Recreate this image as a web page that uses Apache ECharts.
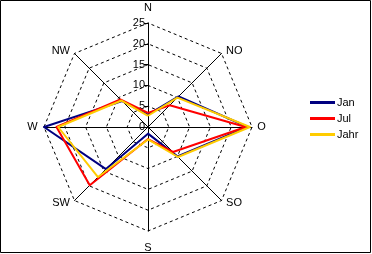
<!DOCTYPE html>
<html><head><meta charset="utf-8">
<script src="https://cdn.jsdelivr.net/npm/echarts@6/dist/echarts.min.js"></script>
<style>html,body{margin:0;padding:0;background:#fff}#c{width:372px;height:254px}</style>
</head><body><div id="c"></div>
<script>
// Directions in counterclockwise order starting at N (ECharts radar order)
const directions = ['N', 'NW', 'W', 'SW', 'S', 'SO', 'O', 'NO'];
const seriesNames = ['Jan', 'Jul', 'Jahr'];
const janValues  = [3.0, 8.8, 25.0, 14.3, 1.6, 10.0, 24.0, 10.4];
const julValues  = [3.4, 9.4, 22.0, 19.8, 2.9, 8.5, 23.5, 7.4];
const jahrValues = [2.7, 9.0, 21.6, 17.0, 3.0, 10.2, 24.5, 10.0];
const tickValues = [0, 5, 10, 15, 20, 25];
const colors = ['#000080', '#FF0000', '#FFCC00'];

const maxVal = tickValues[tickValues.length - 1];
const font = 'Liberation Sans, Arial, sans-serif';
const CX = 148, CY = 127, R = 104;
const chart = echarts.init(document.getElementById('c'));
const allValues = [janValues, julValues, jahrValues];

// Direction name labels placed around the radar outline
const nameGraphics = directions.map((d, i) => {
  const a = Math.PI / 2 + i * Math.PI / 4;
  const vx = CX + R * Math.cos(a), vy = CY - R * Math.sin(a);
  const c = Math.round(Math.cos(a) * 1000) / 1000, s = Math.round(Math.sin(a) * 1000) / 1000;
  let x, y, align = 'center';
  if (c === 0) { x = vx; y = s > 0 ? vy - 15.5 : vy + 16.5; }
  else if (s === 0) { x = c > 0 ? vx + 9.5 : vx - 11.5; y = vy; }
  else {
    align = c > 0 ? 'left' : 'right';
    x = c > 0 ? vx + 4.5 : vx - 4.5;
    y = s > 0 ? vy - 2 : vy + 2.5;
  }
  return {type: 'text', x: x, y: y, silent: true,
    style: {text: d, fill: '#000', font: '11px ' + font, textAlign: align, textVerticalAlign: 'middle'}};
});

chart.setOption({
  animation: false,
  color: colors,
  graphic: [{type: 'rect', shape: {x: 0.5, y: 0.5, width: 370, height: 252},
    style: {fill: 'none', stroke: '#000', lineWidth: 1}, silent: true}].concat(nameGraphics),
  legend: {
    orient: 'vertical', left: 305, top: 92, itemWidth: 25, itemHeight: 3, itemGap: 5,
    icon: 'rect', data: seriesNames,
    textStyle: {fontFamily: font, fontSize: 11, color: '#000', padding: [0, 0, 0, -3]}
  },
  radar: {
    center: [CX, CY], radius: R, shape: 'polygon', splitNumber: 5,
    startAngle: 90,
    indicator: directions.map(d => ({name: d, min: 0, max: maxVal})),
    axisName: {show: false},
    splitLine: {lineStyle: {color: '#000', type: [3, 3], width: 1}},
    splitArea: {show: false},
    axisLine: {lineStyle: {color: '#000', width: 1}},
    axisTick: {show: false}, axisLabel: {show: false}
  },
  grid: {left: CX, top: CY - R, width: 1, height: R},
  xAxis: {type: 'value', show: false, min: 0, max: 1},
  yAxis: {type: 'value', min: tickValues[0], max: maxVal, interval: 5,
    axisLine: {show: false}, splitLine: {show: false},
    axisTick: {show: true, length: 4, lineStyle: {color: '#000'}},
    axisLabel: {fontFamily: font, fontSize: 11, color: '#000', margin: 3}},
  series: [{
    type: 'radar', symbol: 'none',
    data: seriesNames.map((n, i) => ({
      name: n, value: allValues[i],
      lineStyle: {color: colors[i], width: 2},
      itemStyle: {color: colors[i]}
    }))
  }]
});
</script></body></html>
